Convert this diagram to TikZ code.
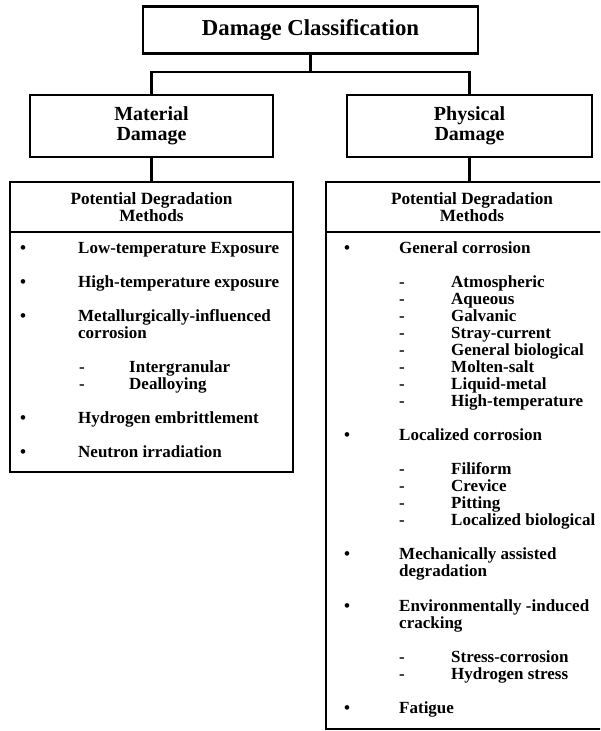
\documentclass[tikz,border=0pt]{standalone}
\usepackage{fontspec}
\setmainfont{Liberation Serif}
\usetikzlibrary{positioning}
\tikzset{
	box/.style={draw, line width=2.2pt, align=center, inner sep=0pt},
	link/.style={line width=2.2pt},
	item/.style={anchor=base west, inner sep=0pt, font=\bfseries\fontsize{17}{17}\selectfont},
	dot/.style={anchor=base, inner sep=0pt, font=\bfseries\fontsize{17}{17}\selectfont},
}

\begin{document}
\begin{tikzpicture}[x=1pt, y=-1pt]
			\clip (0,0) rectangle (600,731);

			% top levels
			\node[box, minimum width=335pt, minimum height=47pt, font=\bfseries\fontsize{22.8}{27}\selectfont] (top) at (310.5,30) {Damage Classification};
			\node[box, minimum width=243pt, minimum height=62pt, font=\bfseries\fontsize{20}{20}\selectfont] (mat) at (151.5,126) {Material\\Damage};
			\node[box, minimum width=245pt, minimum height=62pt, font=\bfseries\fontsize{20}{20}\selectfont] (phy) at (469.5,126) {Physical\\Damage};
			\coordinate (fork) at (310.5,72);

			\draw[link] (top.south) -- (fork);
			\draw[link] (mat.north) |- (fork) -| (phy.north);

			% list boxes
			\node[box, minimum width=283pt, minimum height=50pt, font=\bfseries\fontsize{17.2}{17}\selectfont] (mhead) at (151.5,207) {Potential Degradation\\Methods};
			\node[box, minimum width=283pt, minimum height=240pt] (mbody) at (151.5,352) {};
			\node[box, minimum width=292pt, minimum height=50pt, font=\bfseries\fontsize{17.2}{17}\selectfont] (phead) at (472,207) {Potential Degradation\\Methods};
			\node[box, minimum width=292pt, minimum height=497pt] (pbody) at (472,480.5) {};

			\draw[link] (mat.south) -- (mhead.north);
			\draw[link] (phy.south) -- (phy.south |- phead.north);

			% material damage methods
			\foreach \n/\t in {0/Low-temperature Exposure, 2/High-temperature exposure, 4/Metallurgically-influenced, 5/corrosion, 10/Hydrogen embrittlement, 12/Neutron irradiation}
				\node[item] (mi\n) at (78,{253+17.05*\n}) {\t};
			\foreach \n in {0,2,4,10,12}
				\node[dot] (mb\n) at (23,{253+17.05*\n}) {\textbullet};
			\foreach \n/\t in {7/Intergranular, 8/Dealloying} {
				\node[dot] (md\n) at (82,{253+17.05*\n}) {-};
				\node[item] (ms\n) at (129,{253+17.05*\n}) {\t};
			}

			% physical damage methods
			\foreach \n/\t in {0/General corrosion, 11/Localized corrosion, 18/Mechanically assisted, 19/degradation, 21/Environmentally -induced, 22/cracking, 27/Fatigue}
				\node[item] (pi\n) at (399,{253+17.05*\n}) {\t};
			\foreach \n in {0,11,18,21,27}
				\node[dot] (pb\n) at (347,{253+17.05*\n}) {\textbullet};
			\foreach \n/\t in {2/Atmospheric, 3/Aqueous, 4/Galvanic, 5/Stray-current, 6/General biological, 7/Molten-salt, 8/Liquid-metal, 9/High-temperature, 13/Filiform, 14/Crevice, 15/Pitting, 16/Localized biological, 24/Stress-corrosion, 25/Hydrogen stress} {
				\node[dot] (pd\n) at (402,{253+17.05*\n}) {-};
				\node[item] (ps\n) at (451,{253+17.05*\n}) {\t};
			}
		\end{tikzpicture}
\end{document}
